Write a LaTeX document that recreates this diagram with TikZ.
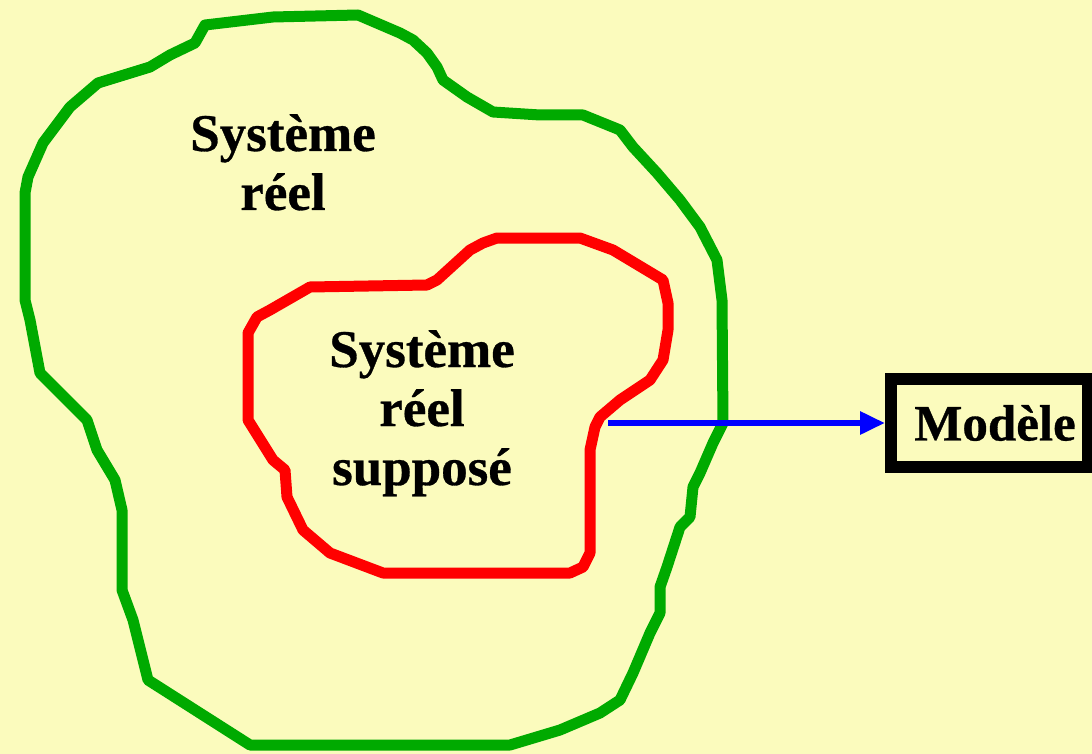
\documentclass[tikz,border=0pt]{standalone}
\usepackage{fontspec}
\setmainfont{Liberation Serif}
\newfontfamily\heavyserif[FakeBold=0.6]{Liberation Serif Bold}
\usetikzlibrary{arrows.meta}
\definecolor{paper}{RGB}{251,251,189}
\definecolor{realgreen}{RGB}{0,170,0}
\definecolor{assumedred}{RGB}{255,0,0}
\definecolor{linkblue}{RGB}{0,0,255}
\tikzset{
  contour/.style={line width=11pt, line join=round, line cap=round},
  label/.style={font=\fontsize{53}{59}\selectfont\heavyserif, align=center, inner sep=0pt, anchor=base},
  modelbox/.style={draw=black, line width=12pt, minimum width=197pt, minimum height=88pt,
    inner sep=0pt, font=\fontsize{51}{58}\selectfont\heavyserif},
  link/.style={draw=linkblue, line width=6pt, -{Triangle[length=25pt,width=22pt]}}
}
\begin{document}
\begin{tikzpicture}[x=1pt,y=-1pt]
  \useasboundingbox (0,0) rectangle (1092,754);
  \fill[paper] (0,0) rectangle (1092,754);

  % outer contour: the real system
  \draw[contour, realgreen]
    (273,17) -- (358,15) -- (400,33) -- (413,40) -- (427,53) -- (437,67) -- (443,80)
    -- (467,97) -- (493,112) -- (540,115) -- (583,115) -- (620,130) -- (633,147)
    -- (657,173) -- (680,200) -- (700,227) -- (717,260) -- (722,300) -- (723,423)
    -- (713,443) -- (700,473) -- (693,487) -- (690,517) -- (680,527) -- (667,567)
    -- (660,587) -- (660,613) -- (650,633) -- (633,673) -- (620,700) -- (600,713)
    -- (560,730) -- (510,745) -- (250,745) -- (148,680) -- (133,620) -- (122,590)
    -- (122,510) -- (115,480) -- (97,450) -- (87,420) -- (40,373) -- (30,320)
    -- (25,300) -- (25,193) -- (28,177) -- (43,143) -- (70,107) -- (98,83)
    -- (150,67) -- (170,55) -- (195,43) -- (205,25) -- cycle;

  % inner contour: the assumed real system
  \draw[contour, assumedred]
    (497,238) -- (580,238) -- (613,250) -- (663,280) -- (668,303) -- (668,330)
    -- (663,360) -- (650,380) -- (620,400) -- (600,417) -- (595,427) -- (590,450)
    -- (590,553) -- (583,567) -- (570,573) -- (383,573) -- (330,553) -- (303,530)
    -- (287,497) -- (285,470) -- (273,460) -- (248,420) -- (248,333) -- (257,317)
    -- (270,310) -- (310,287) -- (427,285) -- (437,280) -- (470,250) -- (483,243)
    -- cycle;

  % labels, anchored on the baseline of their last line
  \node[label] (reel) at (283,210) {Système\\réel};
  \node[label] (suppose) at (422,485) {Système\\réel\\supposé};

  \node[modelbox] (modele) at (989.5,423) {\hspace*{11pt}Modèle};
  \coordinate (depart) at (608,423);
  \draw[link] (depart) -- (modele.west);
\end{tikzpicture}
\end{document}
